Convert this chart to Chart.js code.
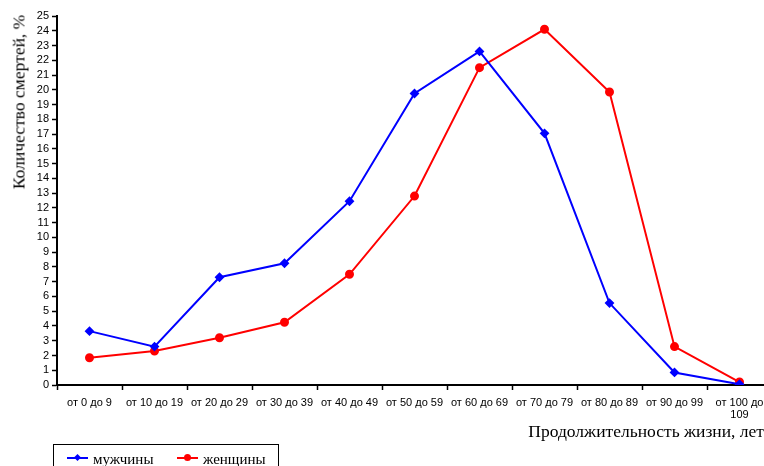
<!DOCTYPE html>
<html>
<head>
<meta charset="utf-8">
<script src="https://cdn.jsdelivr.net/npm/chart.js@4/dist/chart.umd.min.js"></script>
<style>
  html, body { margin: 0; width: 764px; height: 466px; overflow: hidden; background: #fff; }
  #wrap { position: relative; width: 780px; height: 466px; }
  #ytitle {
    position: absolute; left: 19px; top: 102px;
    transform: translate(-50%, -50%) rotate(-90deg);
    font: normal 17.5px "Liberation Serif", "Times New Roman", serif; white-space: nowrap; color: #000;
  }
  #xtitle {
    position: absolute; right: 16px; top: 421px;
    font: normal 17.5px "Liberation Serif", "Times New Roman", serif; white-space: nowrap; color: #000;
  }
  #legend {
    position: absolute; left: 53px; top: 444px; width: 226px; height: 40px;
    border: 1px solid #000; box-sizing: border-box;
    font: normal 15px "Liberation Serif", "Times New Roman", serif; color: #000;
  }
  .item { position: absolute; top: 5px; height: 16px; line-height: 16px; white-space: nowrap; }
  .line { position: absolute; left: 0; top: 7px; width: 21px; height: 2px; }
  .mark { position: absolute; }
  .item span.txt { position: absolute; left: 26px; top: 1px; }
</style>
</head>
<body>
<div id="wrap">
  <canvas id="chart" width="780" height="466"></canvas>
  <div id="ytitle">Количество смертей, %</div>
  <div id="xtitle">Продолжительность жизни, лет</div>
  <div id="legend">
    <div class="item" style="left:13px">
      <div class="line" style="background:#0000ff"></div>
      <div class="mark" style="left:8px;top:5px;width:5px;height:5px;background:#0000ff;transform:rotate(45deg)"></div>
      <span class="txt">мужчины</span>
    </div>
    <div class="item" style="left:123px">
      <div class="line" style="background:#ff0000"></div>
      <div class="mark" style="left:7px;top:4px;width:7px;height:7px;border-radius:50%;background:#ff0000"></div>
      <span class="txt">женщины</span>
    </div>
  </div>
</div>
<script>
// возрастные группы
const ageGroups = [
  "от 0 до 9", "от 10 до 19", "от 20 до 29", "от 30 до 39", "от 40 до 49",
  "от 50 до 59", "от 60 до 69", "от 70 до 79", "от 80 до 89", "от 90 до 99",
  ["от 100 до", "109"]
];
const men = [3.65, 2.6, 7.3, 8.25, 12.45, 19.75, 22.6, 17.05, 5.55, 0.85, 0.05];
const women = [1.85, 2.3, 3.2, 4.25, 7.5, 12.8, 21.5, 24.1, 19.85, 2.6, 0.2];
const yMin = 0;
const yMax = 25;
const yStep = 1;

const tickFont = { family: "'Liberation Sans', Arial, sans-serif", size: 11, lineHeight: 1.1 };

new Chart(document.getElementById("chart"), {
  type: "line",
  data: {
    labels: ageGroups,
    datasets: [
      {
        label: "мужчины",
        data: men,
        borderColor: "#0000ff",
        backgroundColor: "#0000ff",
        borderWidth: 2,
        pointStyle: "rectRot",
        pointRadius: 3.5,
        tension: 0
      },
      {
        label: "женщины",
        data: women,
        borderColor: "#ff0000",
        backgroundColor: "#ff0000",
        borderWidth: 2,
        pointStyle: "circle",
        pointRadius: 3.5,
        tension: 0
      }
    ]
  },
  options: {
    responsive: false,
    animation: false,
    devicePixelRatio: 1,
    layout: { padding: { top: 16, right: 8, left: 0, bottom: 0 } },
    plugins: {
      legend: { display: false },
      tooltip: { enabled: false }
    },
    scales: {
      x: {
        offset: true,
        grid: { drawOnChartArea: false, offset: true, tickLength: 5, tickColor: "#000", tickWidth: 1.5 },
        border: { color: "#000", width: 2 },
        ticks: { color: "#000", font: tickFont, maxRotation: 0, autoSkip: false, padding: 7 },
        afterFit: (scale) => { scale.height = 81; }
      },
      y: {
        min: yMin,
        max: yMax,
        grid: { drawOnChartArea: false, tickLength: 5, tickColor: "#000", tickWidth: 1.5 },
        border: { color: "#000", width: 2 },
        ticks: { stepSize: yStep, autoSkip: false, color: "#000", font: tickFont, padding: 3 },
        afterFit: (scale) => { scale.width = 57; }
      }
    }
  }
});
</script>
</body>
</html>
